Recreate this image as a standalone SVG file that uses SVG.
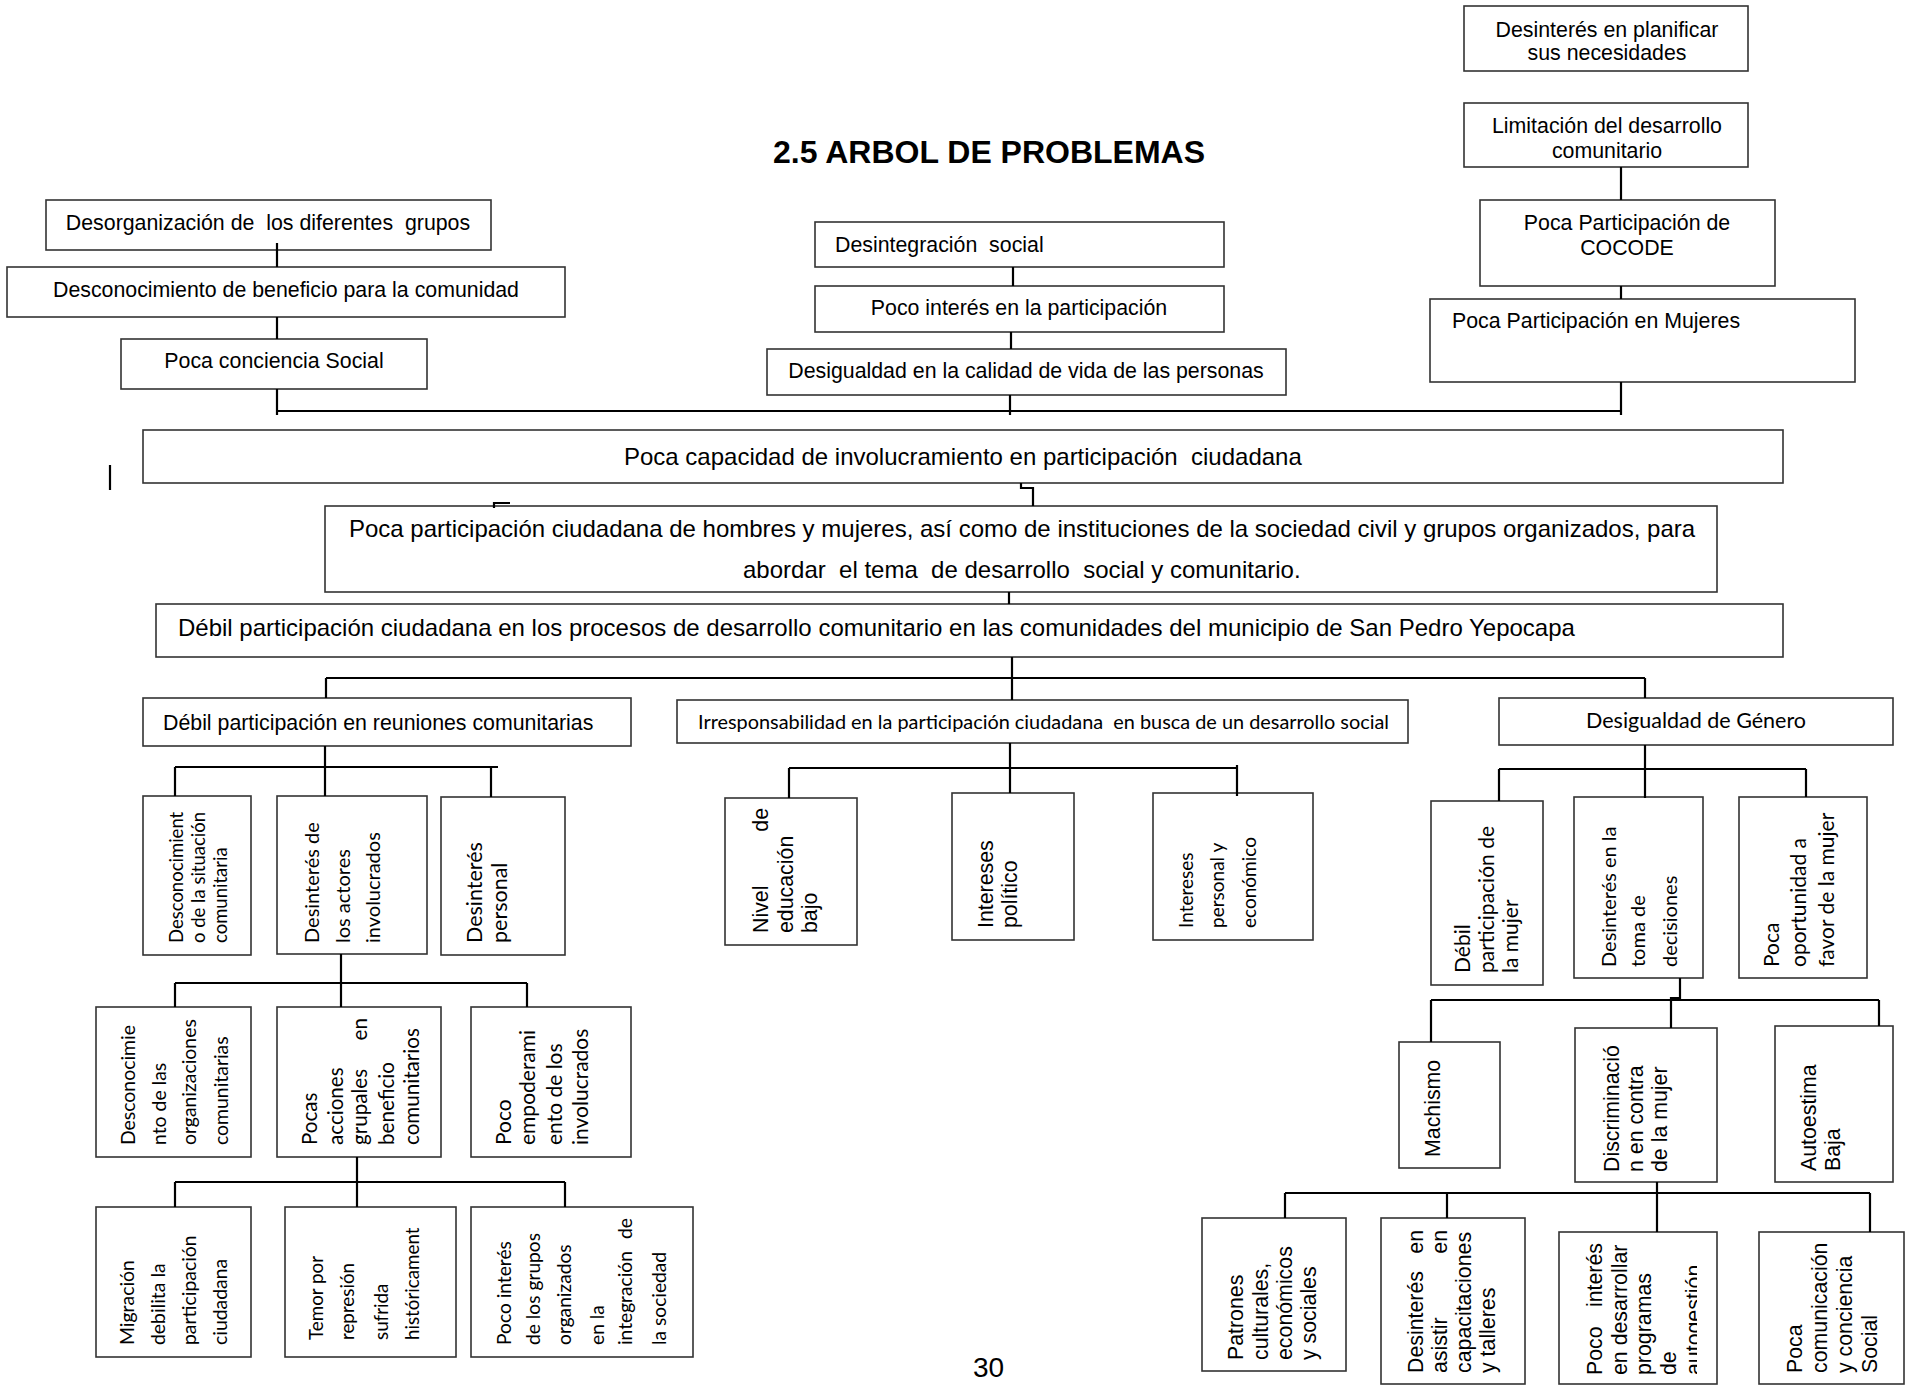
<svg xmlns="http://www.w3.org/2000/svg" width="1912" height="1386" viewBox="0 0 1912 1386">
<style>
.box{fill:#fff;stroke:#333;stroke-width:1.6}
.con{stroke:#000;stroke-width:2.2;fill:none}
.a{font-family:"Liberation Sans",Arial,sans-serif;font-size:21.33px;fill:#000;white-space:pre}
.b{font-family:"Liberation Sans",Arial,sans-serif;font-size:24px;fill:#000;white-space:pre}
.c{font-family:Lato,"Open Sans",sans-serif;fill:#000;white-space:pre}
.m{text-anchor:middle}
.e{text-anchor:end}
.title{font-family:"Liberation Sans",Arial,sans-serif;font-size:32px;font-weight:bold;fill:#000}
</style>
<defs>
<clipPath id="clipAuto" clipPathUnits="userSpaceOnUse"><rect x="1559" y="1232" width="138" height="153"/></clipPath>
</defs>
<rect width="1912" height="1386" fill="#fff"/>
<text class="title" x="773" y="163">2.5 ARBOL DE PROBLEMAS</text>
<text class="a" x="973" y="1377" style="font-size:28px">30</text>

<g id="nodes">
<g id="n1"><rect class="box" x="46" y="200" width="445" height="50"/><text class="a m" x="268" y="230">Desorganización de  los diferentes  grupos</text></g>
<g id="n2"><rect class="box" x="7" y="267" width="558" height="50"/><text class="a m" x="286" y="297">Desconocimiento de beneficio para la comunidad</text></g>
<g id="n3"><rect class="box" x="121" y="339" width="306" height="50"/><text class="a m" x="274" y="368">Poca conciencia Social</text></g>
<g id="n4"><rect class="box" x="815" y="222" width="409" height="45"/><text class="a" x="835" y="252">Desintegración  social</text></g>
<g id="n5"><rect class="box" x="815" y="286" width="409" height="46"/><text class="a m" x="1019" y="315">Poco interés en la participación</text></g>
<g id="n6"><rect class="box" x="767" y="349" width="519" height="46"/><text class="a m" x="1026" y="378">Desigualdad en la calidad de vida de las personas</text></g>
<g id="n7"><rect class="box" x="1464" y="6" width="284" height="65"/><text class="a m" x="1607" y="37">Desinterés en planificar</text><text class="a m" x="1607" y="60">sus necesidades</text></g>
<g id="n8"><rect class="box" x="1464" y="103" width="284" height="64"/><text class="a m" x="1607" y="133">Limitación del desarrollo</text><text class="a m" x="1607" y="158">comunitario</text></g>
<g id="n9"><rect class="box" x="1480" y="200" width="295" height="86"/><text class="a m" x="1627" y="230">Poca Participación de</text><text class="a m" x="1627" y="255">COCODE</text></g>
<g id="n10"><rect class="box" x="1430" y="299" width="425" height="83"/><text class="a" x="1452" y="328">Poca Participación en Mujeres</text></g>
<g id="n11"><rect class="box" x="143" y="430" width="1640" height="53"/><text class="b" x="624" y="465">Poca capacidad de involucramiento en participación  ciudadana</text></g>
<g id="n12"><rect class="box" x="325" y="506" width="1392" height="86"/><text class="b" x="349" y="537">Poca participación ciudadana de hombres y mujeres, así como de instituciones de la sociedad civil y grupos organizados, para</text><text class="b" x="743" y="578">abordar  el tema  de desarrollo  social y comunitario.</text></g>
<g id="n13"><rect class="box" x="156" y="604" width="1627" height="53"/><text class="b" x="178" y="636">Débil participación ciudadana en los procesos de desarrollo comunitario en las comunidades del municipio de San Pedro Yepocapa</text></g>
<g id="n14"><rect class="box" x="143" y="698" width="488" height="48"/><text class="a" x="163" y="730">Débil participación en reuniones comunitarias</text></g>
<g id="n15"><rect class="box" x="677" y="700" width="731" height="43"/><text class="c" x="698" y="729" style="font-size:18.5px" textLength="691" lengthAdjust="spacingAndGlyphs">Irresponsabilidad en la participación ciudadana  en busca de un desarrollo social</text></g>
<g id="n16"><rect class="box" x="1499" y="698" width="394" height="47"/><text class="c m" x="1696" y="728" style="font-size:21.5px">Desigualdad de Género</text></g>

<g id="n17"><rect class="box" x="143" y="796" width="108" height="159"/>
<g class="c" style="font-size:18.5px"><text transform="translate(183,943) rotate(-90)">Desconocimient</text><text transform="translate(205,943) rotate(-90)">o de la situación</text><text transform="translate(227,943) rotate(-90)">comunitaria</text></g></g>
<g id="n18"><rect class="box" x="277" y="796" width="150" height="158"/>
<g class="c" style="font-size:20px"><text transform="translate(319,943) rotate(-90)">Desinterés de</text><text transform="translate(350,943) rotate(-90)">los actores</text><text transform="translate(380,943) rotate(-90)">involucrados</text></g></g>
<g id="n19"><rect class="box" x="441" y="797" width="124" height="158"/>
<g class="c" style="font-size:21.5px"><text transform="translate(482,943) rotate(-90)">Desinterés</text><text transform="translate(507,943) rotate(-90)">personal</text></g></g>
<g id="n20"><rect class="box" x="725" y="798" width="132" height="147"/>
<g class="a"><text transform="translate(768,933) rotate(-90)">Nivel</text><text class="e" transform="translate(768,808) rotate(-90)">de</text><text transform="translate(793,933) rotate(-90)">educación</text><text transform="translate(817,933) rotate(-90)">bajo</text></g></g>
<g id="n21"><rect class="box" x="952" y="793" width="122" height="147"/>
<g class="a"><text transform="translate(993,928) rotate(-90)">Intereses</text><text transform="translate(1017,928) rotate(-90)">político</text></g></g>
<g id="n22"><rect class="box" x="1153" y="793" width="160" height="147"/>
<g class="c" style="font-size:19px"><text transform="translate(1193,928) rotate(-90)">Intereses</text><text transform="translate(1224,928) rotate(-90)">personal y</text><text transform="translate(1256,928) rotate(-90)">económico</text></g></g>
<g id="n23"><rect class="box" x="1431" y="801" width="112" height="184"/>
<g class="c" style="font-size:21px"><text transform="translate(1470,973) rotate(-90)">Débil</text><text transform="translate(1494,973) rotate(-90)">participación de</text><text transform="translate(1518,973) rotate(-90)">la mujer</text></g></g>
<g id="n24"><rect class="box" x="1574" y="797" width="129" height="181"/>
<g class="c" style="font-size:20px"><text transform="translate(1616,967) rotate(-90)">Desinterés en la</text><text transform="translate(1645,967) rotate(-90)">toma de</text><text transform="translate(1677,967) rotate(-90)">decisiones</text></g></g>
<g id="n25"><rect class="box" x="1739" y="797" width="128" height="181"/>
<g class="c" style="font-size:21px"><text transform="translate(1779,967) rotate(-90)">Poca</text><text transform="translate(1806,967) rotate(-90)">oportunidad a</text><text transform="translate(1834,967) rotate(-90)">favor de la mujer</text></g></g>

<g id="n26"><rect class="box" x="96" y="1007" width="155" height="150"/>
<g class="c" style="font-size:19.4px"><text transform="translate(135,1145) rotate(-90)">Desconocimie</text><text transform="translate(166,1145) rotate(-90)">nto de las</text><text transform="translate(196,1145) rotate(-90)">organizaciones</text><text transform="translate(228,1145) rotate(-90)">comunitarias</text></g></g>
<g id="n27"><rect class="box" x="277" y="1007" width="164" height="150"/>
<g class="c" style="font-size:20.6px"><text transform="translate(317,1145) rotate(-90)">Pocas</text><text transform="translate(343,1145) rotate(-90)">acciones</text><text transform="translate(367,1145) rotate(-90)">grupales</text><text class="e" transform="translate(367,1018) rotate(-90)">en</text><text transform="translate(394,1145) rotate(-90)">beneficio</text><text transform="translate(419,1145) rotate(-90)">comunitarios</text></g></g>
<g id="n28"><rect class="box" x="471" y="1007" width="160" height="150"/>
<g class="c" style="font-size:21px"><text transform="translate(511,1145) rotate(-90)">Poco</text><text transform="translate(535,1145) rotate(-90)">empoderami</text><text transform="translate(562,1145) rotate(-90)">ento de los</text><text transform="translate(588,1145) rotate(-90)">involucrados</text></g></g>
<g id="n29"><rect class="box" x="1399" y="1042" width="101" height="126"/>
<g class="a"><text transform="translate(1440,1157) rotate(-90)">Machismo</text></g></g>
<g id="n30"><rect class="box" x="1575" y="1028" width="142" height="154"/>
<g class="a"><text transform="translate(1619,1172) rotate(-90)">Discriminació</text><text transform="translate(1643,1172) rotate(-90)">n en contra</text><text transform="translate(1667,1172) rotate(-90)">de la mujer</text></g></g>
<g id="n31"><rect class="box" x="1775" y="1026" width="118" height="156"/>
<g class="a"><text transform="translate(1816,1171) rotate(-90)">Autoestima</text><text transform="translate(1840,1171) rotate(-90)">Baja</text></g></g>

<g id="n32"><rect class="box" x="96" y="1207" width="155" height="150"/>
<g class="c" style="font-size:19.4px"><text transform="translate(134,1345) rotate(-90)">Migración</text><text transform="translate(165,1345) rotate(-90)">debilita la</text><text transform="translate(196,1345) rotate(-90)">participación</text><text transform="translate(227,1345) rotate(-90)">ciudadana</text></g></g>
<g id="n33"><rect class="box" x="285" y="1207" width="171" height="150"/>
<g class="c" style="font-size:18.8px"><text transform="translate(323,1340) rotate(-90)">Temor por</text><text transform="translate(354,1340) rotate(-90)">represión</text><text transform="translate(388,1340) rotate(-90)">sufrida</text><text transform="translate(419,1340) rotate(-90)">históricament</text></g></g>
<g id="n34"><rect class="box" x="471" y="1207" width="222" height="150"/>
<g class="c" style="font-size:19.2px"><text transform="translate(511,1345) rotate(-90)">Poco interés</text><text transform="translate(540,1345) rotate(-90)">de los grupos</text><text transform="translate(571,1345) rotate(-90)">organizados</text><text transform="translate(604,1345) rotate(-90)">en la</text><text transform="translate(632,1345) rotate(-90)">integración</text><text class="e" transform="translate(632,1218) rotate(-90)">de</text><text transform="translate(666,1345) rotate(-90)">la  sociedad</text></g></g>
<g id="n35"><rect class="box" x="1202" y="1218" width="144" height="153"/>
<g class="a"><text transform="translate(1243,1360) rotate(-90)">Patrones</text><text transform="translate(1268,1360) rotate(-90)">culturales,</text><text transform="translate(1292,1360) rotate(-90)">económicos</text><text transform="translate(1316,1360) rotate(-90)">y sociales</text></g></g>
<g id="n36"><rect class="box" x="1381" y="1218" width="144" height="166"/>
<g class="a"><text transform="translate(1423,1373) rotate(-90)">Desinterés</text><text class="e" transform="translate(1423,1230) rotate(-90)">en</text><text transform="translate(1447,1373) rotate(-90)">asistir</text><text class="e" transform="translate(1447,1230) rotate(-90)">en</text><text transform="translate(1471,1373) rotate(-90)">capacitaciones</text><text transform="translate(1495,1373) rotate(-90)">y talleres</text></g></g>
<g id="n37"><rect class="box" x="1559" y="1232" width="158" height="152"/>
<g class="a"><text transform="translate(1602,1375) rotate(-90)">Poco</text><text class="e" transform="translate(1602,1243) rotate(-90)">interés</text><text transform="translate(1627,1375) rotate(-90)">en desarrollar</text><text transform="translate(1651,1375) rotate(-90)">programas</text><text transform="translate(1676,1375) rotate(-90)">de</text><g clip-path="url(#clipAuto)"><text transform="translate(1701,1375) rotate(-90)">autogestión</text></g></g></g>
<g id="n38"><rect class="box" x="1759" y="1232" width="145" height="152"/>
<g class="a"><text transform="translate(1802,1373) rotate(-90)">Poca</text><text transform="translate(1827,1373) rotate(-90)">comunicación</text><text transform="translate(1852,1373) rotate(-90)">y conciencia</text><text transform="translate(1877,1373) rotate(-90)">Social</text></g></g>
</g>

<g id="connectors" class="con">
<path d="M277 243V267M277 317V339M277 389V415M277 411H1621"/>
<path d="M1013 267V286M1011 332V349M1010 395V415"/>
<path d="M1621 167V200M1621 286V299M1621 382V415"/>
<path d="M110 465V490M494 508V503H510"/>
<path d="M1021 483V488H1033V506M1009 592V604"/>
<path d="M1012 657V700M326 678H1645M326 678V698M1645 678V698"/>
<path d="M325 746V796M175 767H498M175 767V796M491 767V797"/>
<path d="M1010 743V793M789 768H1237M789 768V798M1237 765V796"/>
<path d="M1645 745V798M1499 769H1806M1499 769V801M1806 769V797"/>
<path d="M341 954V1007M175 983H527M175 983V1007M527 983V1007"/>
<path d="M357 1157V1207M175 1182H565M175 1182V1207M565 1182V1207"/>
<path d="M1680 978V998H1671V1028M1431 1000H1879M1431 1000V1042M1879 1000V1026"/>
<path d="M1657 1182V1232M1285 1193H1870M1285 1193V1218M1447 1193V1218M1870 1193V1232"/>
</g>
</svg>
